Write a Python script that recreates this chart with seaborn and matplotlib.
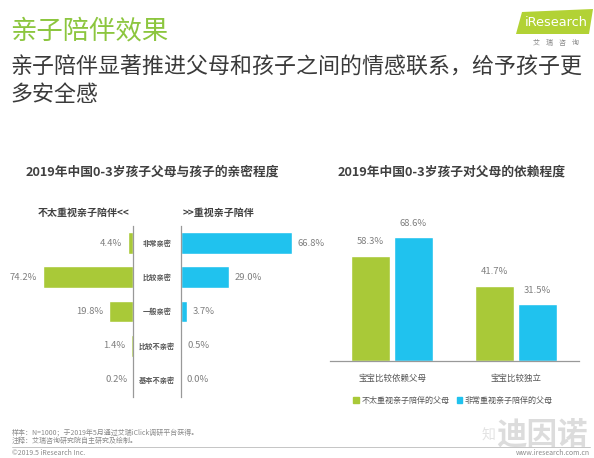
import matplotlib
matplotlib.use("Agg")
import matplotlib.pyplot as plt
import matplotlib.patches as mpatches
import seaborn as sns
import pandas as pd

# Datos
closeness_cats = ['非常亲密', '比较亲密', '一般亲密', '比较不亲密', '基本不亲密']
low_attention = [4.4, 74.2, 19.8, 1.4, 0.2]
high_attention = [66.8, 29.0, 3.7, 0.5, 0.0]

dependence_cats = ['宝宝比较依赖父母', '宝宝比较独立']
groups = ['不太重视亲子陪伴的父母', '非常重视亲子陪伴的父母']
dep_low = [58.3, 41.7]
dep_high = [68.6, 31.5]

GREEN = '#a9c938'
BLUE = '#20c2ee'
GRAY_TXT = '#7f7f7f'
DARK = '#404040'

sns.set_style('white')
plt.rcParams['font.family'] = ['Noto Sans CJK SC', 'DejaVu Sans']

W, H = 594, 458
fig = plt.figure(figsize=(W / 100, H / 100), dpi=100)
fig.patch.set_facecolor('white')


def px_axes(x0, y0, x1, y1):
    # caja en pixeles (origen arriba a la izquierda)
    return fig.add_axes([x0 / W, 1 - y1 / H, (x1 - x0) / W, (y1 - y0) / H])


def fx(x):
    return x / W


def fy(y):
    return 1 - y / H


# Cabecera
fig.text(fx(10), fy(31), '亲子陪伴效果', fontsize=19, color='#8cc63e', va='center', ha='left')
fig.text(fx(10), fy(68), '亲子陪伴显著推进父母和孩子之间的情感联系，给予孩子更',
         fontsize=15.8, color='#3a3a3a', va='center', ha='left')
fig.text(fx(10), fy(95), '多安全感', fontsize=15.8, color='#3a3a3a', va='center', ha='left')

# Logo iResearch
logo = mpatches.Polygon([[fx(516), fy(34)], [fx(522), fy(12)], [fx(593), fy(9)], [fx(589), fy(34)]],
                        closed=True, transform=fig.transFigure, facecolor='#b2d235', edgecolor='none')
fig.patches.append(logo)
fig.text(fx(556), fy(23), 'iResearch', fontsize=9.3, color='white', ha='center', va='center',
         family=['DejaVu Sans'])
fig.text(fx(556), fy(43), '艾    瑞    咨    询', fontsize=5, color='#888888', ha='center', va='center')

# ---- Grafico izquierdo: barras divergentes ----
fig.text(fx(152), fy(172), '2019年中国0-3岁孩子父母与孩子的亲密程度', fontsize=9.2,
         fontweight='bold', color=DARK, ha='center', va='center')
fig.text(fx(129), fy(213), '不太重视亲子陪伴<<', fontsize=7.2, fontweight='bold', color=DARK,
         ha='right', va='center')
fig.text(fx(183), fy(213), '>>重视亲子陪伴', fontsize=7.2, fontweight='bold', color=DARK,
         ha='left', va='center')

ax_l = px_axes(40, 226, 133, 397)
sns.barplot(x=low_attention, y=closeness_cats, orient='h', color=GREEN, width=0.64,
            saturation=1, ax=ax_l)
ax_l.set_xlim(76.5, 0)
ax_l.set_ylim(4.5, -0.5)
for i, v in enumerate(low_attention):
    ax_l.annotate(f'{v:.1f}%', (v, i), xytext=(-4, 0), textcoords='offset points',
                  ha='right', va='center', fontsize=6.8, color=GRAY_TXT)

ax_r = px_axes(181, 226, 300, 397)
sns.barplot(x=high_attention, y=closeness_cats, orient='h', color=BLUE, width=0.64,
            saturation=1, ax=ax_r)
ax_r.set_xlim(0, 71.7)
ax_r.set_ylim(4.5, -0.5)
for i, v in enumerate(high_attention):
    ax_r.annotate(f'{v:.1f}%', (v, i), xytext=(4, 0), textcoords='offset points',
                  ha='left', va='center', fontsize=6.8, color=GRAY_TXT)

for ax in (ax_l, ax_r):
    ax.set_xticks([])
    ax.set_yticks([])
    ax.set_xlabel('')
    ax.set_ylabel('')
    ax.patch.set_alpha(0)
    for s in ax.spines.values():
        s.set_visible(False)
ax_l.spines['right'].set_visible(True)
ax_l.spines['right'].set_color('#999999')
ax_l.spines['right'].set_linewidth(0.9)
ax_r.spines['left'].set_visible(True)
ax_r.spines['left'].set_color('#999999')
ax_r.spines['left'].set_linewidth(0.9)

# etiquetas centrales
for i, cat in enumerate(closeness_cats):
    yy = 226 + 17.1 + i * 34.2
    fig.text(fx(157), fy(yy), cat, fontsize=5.2, fontweight='bold', color='#555555',
             ha='center', va='center')

# ---- Grafico derecho: barras agrupadas ----
fig.text(fx(452), fy(172), '2019年中国0-3岁孩子对父母的依赖程度', fontsize=9.2,
         fontweight='bold', color=DARK, ha='center', va='center')

df = pd.DataFrame({
    'cat': dependence_cats * 2,
    'grupo': [groups[0]] * 2 + [groups[1]] * 2,
    'valor': dep_low + dep_high,
})
ax2 = px_axes(330, 200, 579, 361)
sns.barplot(data=df, x='cat', y='valor', hue='grupo', palette=[GREEN, BLUE], width=0.69,
            gap=0.1, saturation=1, ax=ax2, legend=False)
ax2.set_xlim(-0.5, 1.508)
ax2.set_ylim(0, 89.4)
for cont in ax2.containers:
    for bar in cont:
        h = bar.get_height()
        ax2.annotate(f'{h:.1f}%', (bar.get_x() + bar.get_width() / 2, h), xytext=(0, 7),
                     textcoords='offset points', ha='center', va='bottom', fontsize=6.8,
                     color=GRAY_TXT)
ax2.set_yticks([])
ax2.set_xlabel('')
ax2.set_ylabel('')
ax2.tick_params(axis='x', length=0, pad=9, labelsize=6.1, labelcolor='#555555')
for s in ax2.spines.values():
    s.set_visible(False)
ax2.spines['bottom'].set_visible(True)
ax2.spines['bottom'].set_color('#999999')
ax2.spines['bottom'].set_linewidth(0.9)
ax2.patch.set_alpha(0)

handles = [mpatches.Patch(color=GREEN, label=groups[0]), mpatches.Patch(color=BLUE, label=groups[1])]
fig.legend(handles=handles, loc='center', bbox_to_anchor=(fx(453), fy(400)), ncol=2, frameon=False,
           fontsize=5.8, handlelength=0.7, handleheight=0.7, handletextpad=0.3, columnspacing=0.9,
           labelcolor='#555555')

# ---- Pie de pagina ----
fig.text(fx(12), fy(432), '样本：N=1000；于2019年5月通过艾瑞iClick调研平台获得。', fontsize=5,
         color='#8a8a8a', ha='left', va='center')
fig.text(fx(12), fy(441), '注释：艾瑞咨询研究院自主研究及绘制。', fontsize=5, color='#8a8a8a',
         ha='left', va='center')
fig.add_artist(plt.Line2D([fx(12), fx(590)], [fy(447), fy(447)], color='#bbbbbb', linewidth=0.6))
fig.text(fx(12), fy(453), '©2019.5 iResearch Inc.', fontsize=5, color='#8a8a8a', ha='left', va='center')
fig.text(fx(590), fy(453), 'www.iresearch.com.cn', fontsize=5, color='#8a8a8a', ha='right', va='center')
# marca de agua
fig.text(fx(588), fy(434), '迪因诺', fontsize=22, fontweight='bold', color='#d9d9d9', ha='right',
         va='center', alpha=0.9)
fig.text(fx(488), fy(436), '知', fontsize=10, color='#e3e3e3', ha='center', va='center')

fig.savefig('out.png', dpi=100, facecolor='white')
